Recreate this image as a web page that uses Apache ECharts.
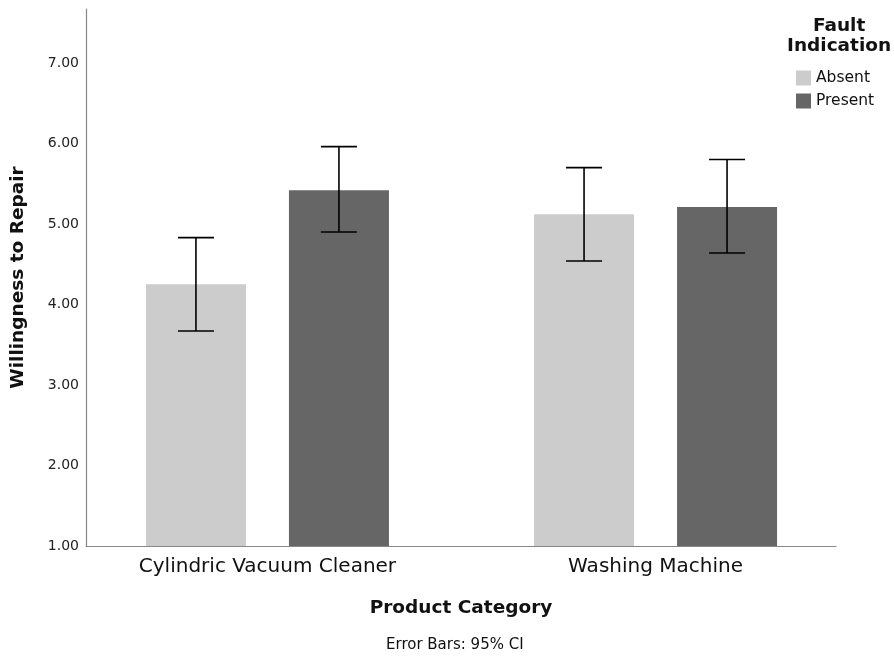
<!DOCTYPE html>
<html><head><meta charset="utf-8">
<script src="https://cdn.jsdelivr.net/npm/echarts@6/dist/echarts.min.js"></script>
<style>html,body{margin:0;padding:0;background:#fff}#c{width:894px;height:660px}</style>
</head><body><div id="c"></div>
<script>
const categories = ['Cylindric Vacuum Cleaner', 'Washing Machine'];
const groups = ['Absent', 'Present'];
const absentMean = [4.25, 5.12];
const absentLow = [3.67, 4.54];
const absentHigh = [4.83, 5.70];
const presentMean = [5.42, 5.21];
const presentLow = [4.90, 4.64];
const presentHigh = [5.96, 5.80];
const yTicks = [1, 2, 3, 4, 5, 6, 7];

const FONT = 'DejaVu Sans';
const BAR_W = 100, BAR_GAP = 43;
const yMin = 1, yMax = 7.67;
const chart = echarts.init(document.getElementById('c'));

function errItem(offsetSign) {
  return function (params, api) {
    const x = api.value(0);
    const lo = api.coord([x, api.value(1)]);
    const hi = api.coord([x, api.value(2)]);
    const cx = lo[0] + offsetSign * (BAR_W + BAR_GAP) / 2;
    const cap = 18;
    const st = { stroke: '#000', lineWidth: 1.6 };
    return { type: 'group', children: [
      { type: 'line', shape: { x1: cx, y1: hi[1], x2: cx, y2: lo[1] }, style: st },
      { type: 'line', shape: { x1: cx - cap, y1: hi[1], x2: cx + cap, y2: hi[1] }, style: st },
      { type: 'line', shape: { x1: cx - cap, y1: lo[1], x2: cx + cap, y2: lo[1] }, style: st }
    ]};
  };
}

chart.setOption({
  animation: false,
  textStyle: { fontFamily: FONT },
  grid: [
    { left: 73.4, right: 44.4, top: 9, bottom: 114 },
    { left: 86, right: 58, top: 9, bottom: 114 }
  ],
  xAxis: [
    { type: 'category', gridIndex: 0, data: categories,
      axisLine: { show: false }, axisTick: { show: false },
      axisLabel: { fontSize: 20, color: '#111', margin: 11, fontFamily: FONT } },
    { type: 'value', gridIndex: 1, min: 0, max: 1,
      axisLine: { show: true, lineStyle: { color: '#888', width: 1.2 } },
      axisTick: { show: false }, axisLabel: { show: false }, splitLine: { show: false },
      name: 'Product Category', nameLocation: 'middle', nameGap: 53,
      nameTextStyle: { fontSize: 18.5, fontWeight: 'bold', color: '#111', fontFamily: FONT } }
  ],
  yAxis: [
    { type: 'value', gridIndex: 0, min: yMin, max: yMax, show: false },
    { type: 'value', gridIndex: 1, min: yMin, max: yMax, interval: 1,
      axisLine: { show: true, lineStyle: { color: '#888', width: 1.2 } },
      axisTick: { show: false }, splitLine: { show: false },
      axisLabel: { fontSize: 14, color: '#222', margin: 7, fontFamily: FONT,
        formatter: v => yTicks.includes(v) ? v.toFixed(2) : '' },
      name: 'Willingness to Repair', nameLocation: 'middle', nameGap: 58,
      nameTextStyle: { fontSize: 18.5, fontWeight: 'bold', color: '#111', fontFamily: FONT } }
  ],
  legend: {
    data: groups, orient: 'vertical', left: 791, top: 65, itemWidth: 15, itemHeight: 15,
    itemGap: 7, icon: 'rect',
    textStyle: { fontSize: 15.5, color: '#111', fontFamily: FONT }
  },
  graphic: [
    { type: 'text', left: 837 - 50, top: 16, style: { text: 'Fault\nIndication', textAlign: 'center', x: 50,
      font: 'bold 18.5px "DejaVu Sans"', fill: '#111', lineHeight: 20 } },
    { type: 'text', left: 386, top: 638, style: { text: 'Error Bars: 95% CI',
      font: '15px "DejaVu Sans"', fill: '#111' } }
  ],
  series: [
    { name: 'Absent', type: 'bar', xAxisIndex: 0, yAxisIndex: 0, data: absentMean,
      barWidth: BAR_W, barGap: (BAR_GAP / BAR_W * 100) + '%', itemStyle: { color: '#cccccc' } },
    { name: 'Present', type: 'bar', xAxisIndex: 0, yAxisIndex: 0, data: presentMean,
      barWidth: BAR_W, barGap: (BAR_GAP / BAR_W * 100) + '%', itemStyle: { color: '#666666' } },
    { type: 'custom', xAxisIndex: 0, yAxisIndex: 0, renderItem: errItem(-1), z: 10,
      data: categories.map((c, i) => [i, absentLow[i], absentHigh[i]]) },
    { type: 'custom', xAxisIndex: 0, yAxisIndex: 0, renderItem: errItem(1), z: 10,
      data: categories.map((c, i) => [i, presentLow[i], presentHigh[i]]) }
  ]
});
</script></body></html>
